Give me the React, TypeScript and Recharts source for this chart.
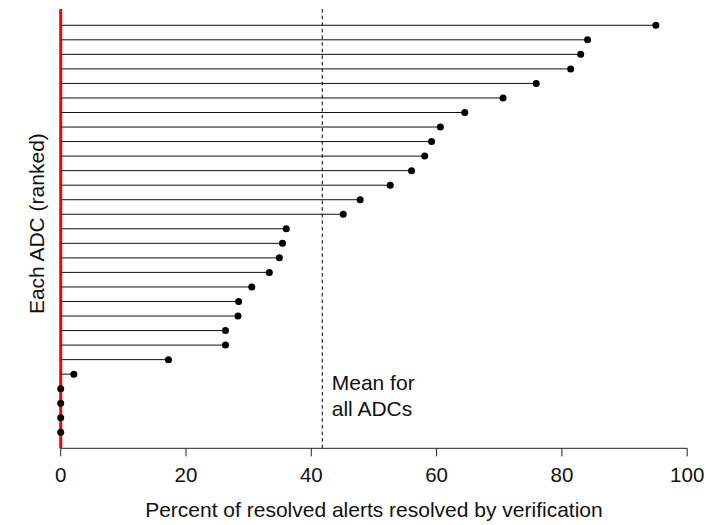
import React from "react";
import {
  ComposedChart,
  XAxis,
  YAxis,
  Scatter,
  ReferenceLine,
} from "recharts";

// Percent of resolved alerts resolved by verification, one per ADC, ranked (top = highest)
const adcValues: number[] = [
  95.0, 84.1, 83.0, 81.4, 75.9, 70.6, 64.5, 60.6, 59.2, 58.1,
  56.0, 52.6, 47.8, 45.1, 36.0, 35.4, 34.9, 33.3, 30.5, 28.4,
  28.3, 26.3, 26.3, 17.2, 2.1, 0, 0, 0, 0,
];
const meanAll = 41.75;
const xTicks: number[] = [0, 20, 40, 60, 80, 100];
const xLabel = "Percent of resolved alerts resolved by verification";
const yLabel = "Each ADC (ranked)";
const meanLabelLines: string[] = ["Mean for", "all ADCs"];

const n = adcValues.length;
const points = adcValues.map((v, i) => ({ x: v, y: n - i }));

const FONT = "'Liberation Sans', Arial, Helvetica, sans-serif";
const FS = 21;

export default function App() {
  return (
    <div style={{ position: "absolute", left: 0, top: 0, background: "#fff" }}>
      <ComposedChart
        width={706}
        height={525}
        margin={{ top: 9, right: 18.8, bottom: 16.7, left: 0 }}
      >
        <XAxis
          type="number"
          dataKey="x"
          domain={[0, 100]}
          ticks={xTicks}
          height={60}
          tickSize={8}
          tickMargin={11}
          stroke="#222"
          tick={{ fill: "#111", fontSize: 20.5, fontFamily: FONT }}
          interval={0}
          label={{
            content: (props: any) => {
              const vb = props.viewBox || {};
              return (
                <text
                  x={vb.x + vb.width / 2}
                  y={517}
                  textAnchor="middle"
                  fontSize={FS}
                  fontFamily={FONT}
                  fill="#111"
                >
                  {xLabel}
                </text>
              );
            },
          }}
        />
        <YAxis
          type="number"
          dataKey="y"
          domain={[-0.1, n + 1.12]}
          width={60.7}
          tick={false}
          tickLine={false}
          axisLine={false}
          label={{
            content: (props: any) => {
              const vb = props.viewBox || {};
              const cx = 44;
              const cy = vb.y + vb.height / 2 - 5;
              return (
                <text
                  x={cx}
                  y={cy}
                  textAnchor="middle"
                  transform={`rotate(-90, ${cx}, ${cy})`}
                  fontSize={FS}
                  fontFamily={FONT}
                  fill="#111"
                >
                  {yLabel}
                </text>
              );
            },
          }}
        />
        <ReferenceLine x={0} stroke="#ff0000" strokeWidth={3} />
        {points.map((p, i) => (
          <ReferenceLine
            key={"seg" + i}
            segment={[
              { x: 0, y: p.y },
              { x: p.x, y: p.y },
            ]}
            stroke="#111"
            strokeWidth={1}
            ifOverflow="visible"
          />
        ))}
        <ReferenceLine
          x={meanAll}
          stroke="#000"
          strokeWidth={1}
          strokeDasharray="3.6 3"
          label={{
            content: (props: any) => {
              const vb = props.viewBox || {};
              const x0 = vb.x + 9.5;
              return (
                <g>
                  {meanLabelLines.map((t, k) => (
                    <text
                      key={k}
                      x={x0}
                      y={389.5 + k * 26}
                      fontSize={FS}
                      fontFamily={FONT}
                      fill="#111"
                    >
                      {t}
                    </text>
                  ))}
                </g>
              );
            },
          }}
        />
        <Scatter
          data={points}
          isAnimationActive={false}
          shape={(p: any) => (
            <circle cx={p.cx} cy={p.cy} r={3.5} fill="#000" />
          )}
        />
      </ComposedChart>
    </div>
  );
}
